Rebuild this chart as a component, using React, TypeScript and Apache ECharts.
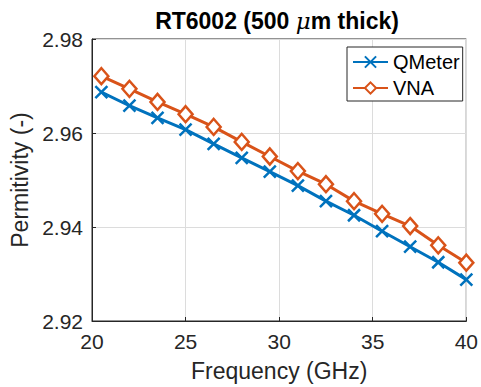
import React, { useEffect, useRef } from "react";
import * as echarts from "echarts";

const frequency = [20.5, 22, 23.5, 25, 26.5, 28, 29.5, 31, 32.5, 34, 35.5, 37, 38.5, 40];
const qmeter = [2.9687, 2.9658, 2.9632, 2.9607, 2.9577, 2.9547, 2.9518, 2.9488, 2.9455, 2.9425, 2.9391, 2.9358, 2.9325, 2.9288];
const vna = [2.9721, 2.9694, 2.9666, 2.964, 2.9613, 2.9581, 2.955, 2.9519, 2.9491, 2.9455, 2.9428, 2.9402, 2.9361, 2.9324];
const xTicks = { min: 20, max: 40, interval: 5 };
const yTicks = { min: 2.92, max: 2.98, interval: 0.02 };

const FONT = "'Liberation Sans', Arial, Helvetica, sans-serif";
const BLUE = "#0072BD";
const ORANGE = "#D95319";
const AXIS = "#262626";

export default function App() {
  const ref = useRef<HTMLDivElement>(null);
  useEffect(() => {
    if (!ref.current) return;
    const chart = echarts.init(ref.current, undefined, { renderer: "svg" });
    chart.setOption({
      animation: false,
      backgroundColor: "#ffffff",
      textStyle: { fontFamily: FONT },
      grid: {
        left: 87,
        right: 13,
        top: 39,
        bottom: 65,
        show: true,
        borderColor: AXIS,
        borderWidth: 1,
        backgroundColor: "transparent",
      },
      graphic: [
        {
          type: "text",
          x: 277,
          y: 21,
          style: {
            text: "{b|RT6002 (500 }{i|μ}{b|m thick)}",
            align: "center",
            verticalAlign: "middle",
            rich: {
              b: { fontFamily: FONT, fontSize: 23, fontWeight: "bold", fill: "#000" },
              i: { fontFamily: "'DejaVu Serif', serif", fontSize: 23, fontStyle: "italic", fill: "#000" },
            },
          },
        },
      ],
      legend: {
        show: true,
        orient: "vertical",
        left: 347,
        top: 47,
        itemWidth: 35,
        itemHeight: 14,
        itemGap: 6,
        padding: [5, 3, 3, 5],
        borderColor: AXIS,
        borderWidth: 1,
        backgroundColor: "#ffffff",
        textStyle: { fontFamily: FONT, fontSize: 20, color: "#000" },
        data: ["QMeter", "VNA"],
      },
      xAxis: {
        type: "value",
        min: xTicks.min,
        max: xTicks.max,
        interval: xTicks.interval,
        name: "Frequency (GHz)",
        nameLocation: "middle",
        nameGap: 38,
        nameTextStyle: { fontFamily: FONT, fontSize: 23, color: AXIS },
        axisLine: { show: true, lineStyle: { color: AXIS, width: 1 } },
        axisTick: { show: true, inside: true, length: 4, lineStyle: { color: AXIS } },
        axisLabel: { fontFamily: FONT, fontSize: 21, color: AXIS, margin: 10 },
        splitLine: { show: true, lineStyle: { color: "#dcdcdc", width: 1 } },
      },
      yAxis: {
        type: "value",
        min: yTicks.min,
        max: yTicks.max,
        interval: yTicks.interval,
        name: "Permitivity (-)",
        nameLocation: "middle",
        nameGap: 61,
        nameTextStyle: { fontFamily: FONT, fontSize: 23, color: AXIS },
        axisLine: { show: true, lineStyle: { color: AXIS, width: 1 } },
        axisTick: { show: true, inside: true, length: 4, lineStyle: { color: AXIS } },
        axisLabel: {
          fontFamily: FONT,
          fontSize: 21,
          color: AXIS,
          margin: 9,
          formatter: (v: number) => v.toFixed(2),
        },
        splitLine: { show: true, lineStyle: { color: "#dcdcdc", width: 1 } },
      },
      series: [
        {
          name: "QMeter",
          type: "line",
          data: frequency.map((f, i) => [f, qmeter[i]]),
          symbol: "path://M0,0L10,10M10,0L0,10",
          symbolSize: 12,
          showAllSymbol: true,
          lineStyle: { color: BLUE, width: 3 },
          itemStyle: { color: BLUE, borderColor: BLUE, borderWidth: 2.5 },
          z: 3,
        },
        {
          name: "VNA",
          type: "line",
          data: frequency.map((f, i) => [f, vna[i]]),
          symbol: "diamond",
          symbolSize: [14, 16],
          showAllSymbol: true,
          lineStyle: { color: ORANGE, width: 3 },
          itemStyle: { color: "#ffffff", borderColor: ORANGE, borderWidth: 2.5 },
          z: 4,
        },
      ],
    });
    return () => chart.dispose();
  }, []);
  return (
    <div style={{ position: "fixed", left: 0, top: 0 }}>
      <div ref={ref} style={{ width: 481, height: 387 }} />
    </div>
  );
}
